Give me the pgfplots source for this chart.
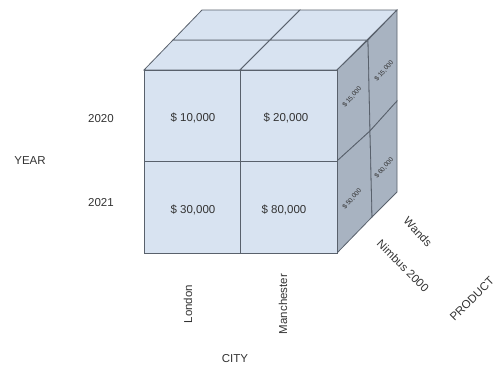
\documentclass[border=0pt]{standalone}
\usepackage{pgfplots}
\pgfplotsset{compat=1.18}
\usepackage{fontspec}
\setmainfont{Liberation Sans}
\definecolor{frontc}{HTML}{D8E3F1}
\definecolor{sidec}{HTML}{A8B3C1}
\definecolor{edgec}{HTML}{59616C}
\definecolor{txtc}{HTML}{333333}
\begin{document}
\begin{tikzpicture}
\begin{axis}[
  hide axis, x=1pt, y=1pt, scale only axis,
  xmin=0, xmax=496, ymin=0, ymax=370, y dir=reverse,
  clip=false,
]
\addplot[draw=none, forget plot] coordinates {(0,0) (496,370)};
% top face
\addplot[fill=frontc, draw=edgec, line width=0.8pt] coordinates {(144,70) (240,70) (270,40) (173,40)} -- cycle;
\addplot[fill=frontc, draw=edgec, line width=0.8pt] coordinates {(240,70) (337,70) (367,40) (270,40)} -- cycle;
\addplot[fill=frontc, draw=edgec, line width=0.8pt] coordinates {(173,40) (270,40) (300,10) (202,10)} -- cycle;
\addplot[fill=frontc, draw=edgec, line width=0.8pt] coordinates {(270,40) (367,40) (397,10) (300,10)} -- cycle;
% right face
\addplot[fill=sidec, draw=edgec, line width=0.8pt] coordinates {(337,70) (368,40) (370,131) (337,161)} -- cycle;
\addplot[fill=sidec, draw=edgec, line width=0.8pt] coordinates {(368,40) (397,10) (397,101) (370,131)} -- cycle;
\addplot[fill=sidec, draw=edgec, line width=0.8pt] coordinates {(337,161) (370,131) (372,217) (337,253)} -- cycle;
\addplot[fill=sidec, draw=edgec, line width=0.8pt] coordinates {(370,131) (397,101) (397,192) (372,217)} -- cycle;
% front face
\addplot[fill=frontc, draw=edgec, line width=0.8pt] coordinates {(144,70) (240,70) (240,161) (144,161)} -- cycle;
\addplot[fill=frontc, draw=edgec, line width=0.8pt] coordinates {(240,70) (337,70) (337,161) (240,161)} -- cycle;
\addplot[fill=frontc, draw=edgec, line width=0.8pt] coordinates {(144,161) (240,161) (240,253) (144,253)} -- cycle;
\addplot[fill=frontc, draw=edgec, line width=0.8pt] coordinates {(240,161) (337,161) (337,253) (240,253)} -- cycle;
% labels
\begin{scope}[every node/.style={text=txtc, font=\fontsize{11.5}{13}\selectfont, inner sep=0pt}]
\node at (axis cs:193,118) {\$ 10,000};
\node at (axis cs:286,118) {\$ 20,000};
\node at (axis cs:193,210) {\$ 30,000};
\node at (axis cs:284,210) {\$ 80,000};
\node at (axis cs:101,119) {2020};
\node at (axis cs:101,203) {2021};
\node at (axis cs:30,161) {YEAR};
\node[rotate=90] at (axis cs:188,304) {London};
\node[rotate=90] at (axis cs:283,304) {Manchester};
\node at (axis cs:235,359) {CITY};
\node[rotate=-47] at (axis cs:418,232) {Wands};
\node[rotate=-45] at (axis cs:403,266) {Nimbus 2000};
\node[rotate=45] at (axis cs:472,299) {PRODUCT};
\end{scope}
\begin{scope}[every node/.style={text=txtc, font=\fontsize{6.5}{7}\selectfont, inner sep=0pt, rotate=50}]
\node at (axis cs:352,97) {\$ 15,000};
\node at (axis cs:384,71) {\$ 15,000};
\node at (axis cs:352,199) {\$ 50,000};
\node at (axis cs:384,168) {\$ 60,000};
\end{scope}
\end{axis}
\end{tikzpicture}
\end{document}
